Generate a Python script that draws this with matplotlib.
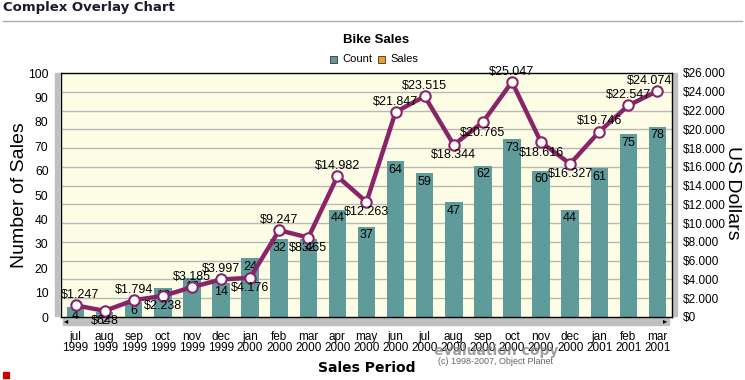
import matplotlib
matplotlib.use("Agg")
import matplotlib.pyplot as plt
from matplotlib.patches import Rectangle

months = ["jul", "aug", "sep", "oct", "nov", "dec", "jan", "feb", "mar", "apr", "may",
          "jun", "jul", "aug", "sep", "oct", "nov", "dec", "jan", "feb", "mar"]
years = ["1999", "1999", "1999", "1999", "1999", "1999", "2000", "2000", "2000", "2000", "2000",
         "2000", "2000", "2000", "2000", "2000", "2000", "2000", "2001", "2001", "2001"]
counts = [4, 2, 6, 12, 16, 14, 24, 32, 32, 44, 37, 64, 59, 47, 62, 73, 60, 44, 61, 75, 78]
sales = [1247, 648, 1794, 2238, 3185, 3997, 4176, 9247, 8465, 14982, 12263, 21847,
         23515, 18344, 20765, 25047, 18616, 16327, 19746, 22547, 24074]
count_ticks = list(range(0, 101, 10))
sales_ticks = list(range(0, 26001, 2000))
label_side = ["a", "b", "a", "b", "a", "a", "b", "a", "b", "a", "b", "a",
              "a", "b", "b", "a", "b", "b", "a", "a", "a"]

W, H = 745, 380
fig = plt.figure(figsize=(W / 100, H / 100), dpi=100)
plt.rcParams['font.family'] = ['Liberation Sans', 'DejaVu Sans']

def fx(x):
    return x / W

def fy(y):
    return 1 - y / H

BAR = "#5f9b9b"
LINE = "#8a2468"

L, R, T, B = 61, 672, 73, 317
ax = fig.add_axes([fx(L), fy(B), fx(R) - fx(L), fy(T) - fy(B)])
ax.set_facecolor("#fdfde6")
n = len(counts)
x = list(range(n))
ax.set_xlim(-0.5, n - 0.5)
ax.set_ylim(0, 100)
for t in sales_ticks[1:-1]:
    ax.axhline(t / sales_ticks[-1] * 100, color="#b8b8b8", lw=1, zorder=1)
ax.bar(x, counts, width=0.6, color=BAR, zorder=2)
for xi, c in zip(x, counts):
    ax.annotate(str(c), (xi, c), xytext=(0, -2), textcoords="offset points",
                ha="center", va="top", fontsize=9, color="black", zorder=3)
ax.set_yticks(count_ticks)
ax.set_yticklabels([str(t) for t in count_ticks], fontsize=8.7)
ax.tick_params(axis="y", length=0, pad=9)
ax.set_xticks(x)
ax.set_xticklabels([f"{m}\n{y}" for m, y in zip(months, years)], fontsize=8.5,
                   linespacing=0.95)
ax.tick_params(axis="x", length=0, pad=10)
for s in ax.spines.values():
    s.set_color("black")
    s.set_linewidth(1)

ax2 = ax.twinx()
ax2.set_ylim(0, sales_ticks[-1])
ax2.plot(x, sales, color=LINE, lw=3.2, marker="o", markersize=7.5,
         markerfacecolor="white", markeredgecolor=LINE, markeredgewidth=1.5,
         zorder=5, solid_joinstyle="round")
for i, (xi, v, side) in enumerate(zip(x, sales, label_side)):
    off = 7.5 if side == "a" else -7.5
    dx = -6 if i == n - 1 else (3 if i == 0 else 0)
    ax2.annotate("$" + f"{v:,}".replace(",", "."), (xi, v), xytext=(dx, off),
                 textcoords="offset points", ha="center", va="center",
                 fontsize=9, color="black", zorder=6, annotation_clip=False)
ax2.set_yticks(sales_ticks)
ax2.set_yticklabels(["$" + f"{t:,}".replace(",", ".") for t in sales_ticks], fontsize=8.5)
ax2.tick_params(axis="y", length=0, pad=8)
for s in ax2.spines.values():
    s.set_visible(False)

# scrollbar-like grey bars (behind the axes)
grey = "#c0c0c0"
fig.patches.append(Rectangle((fx(55), fy(316)), fx(4), fy(T) - fy(316),
                             transform=fig.transFigure, color=grey, zorder=-1))
fig.patches.append(Rectangle((fx(673), fy(316)), fx(4), fy(T) - fy(316),
                             transform=fig.transFigure, color=grey, zorder=-1))
fig.patches.append(Rectangle((fx(63), fy(325)), fx(669) - fx(63), fy(318) - fy(325),
                             transform=fig.transFigure, color=grey, zorder=-1))
fig.text(fx(66), fy(321.5), "◂", fontsize=6, va="center", ha="center", color="black",
         zorder=-1)
fig.text(fx(665), fy(321.5), "▸", fontsize=6, va="center", ha="center", color="black",
         zorder=-1)

# texts
fig.text(fx(3), fy(8), "Complex Overlay Chart", fontsize=9.5, fontweight="bold",
         family="DejaVu Sans", color="#1a1a33", va="center", ha="left")
fig.add_artist(plt.Line2D([fx(3), fx(742)], [fy(21), fy(21)], color="#aaaaaa", lw=1,
                          transform=fig.transFigure))
fig.text(fx(376), fy(40), "Bike Sales", fontsize=9.5, fontweight="bold",
         va="center", ha="center")
fig.patches.append(Rectangle((fx(330), fy(63)), fx(7), fy(56) - fy(63),
                             transform=fig.transFigure, facecolor=BAR, edgecolor="#333333", lw=0.6))
fig.text(fx(342), fy(59.5), "Count", fontsize=8, va="center", ha="left")
fig.patches.append(Rectangle((fx(378), fy(63)), fx(7), fy(56) - fy(63),
                             transform=fig.transFigure, facecolor="#f0a020", edgecolor="#333333", lw=0.6))
fig.text(fx(390), fy(59.5), "Sales", fontsize=8, va="center", ha="left")
fig.text(fx(20), fy(195), "Number of Sales", fontsize=14, rotation=90,
         va="center", ha="center")
fig.text(fx(733), fy(193), "US Dollars", fontsize=14, rotation=270,
         va="center", ha="center")
fig.text(fx(367), fy(368), "Sales Period", fontsize=10, fontweight="bold",
         family="DejaVu Sans", va="center", ha="center")
fig.text(fx(496), fy(351), "evaluation copy", fontsize=10, fontweight="bold",
         family="DejaVu Sans", color="#888888", alpha=0.8, va="center", ha="center")
fig.text(fx(495), fy(362), "(c) 1998-2007, Object Planet", fontsize=6.5,
         color="#666666", va="center", ha="center")
fig.patches.append(Rectangle((fx(3), fy(378)), fx(6), fy(372) - fy(378),
                             transform=fig.transFigure, color="#cc0000"))

fig.savefig("out.png", dpi=100)
